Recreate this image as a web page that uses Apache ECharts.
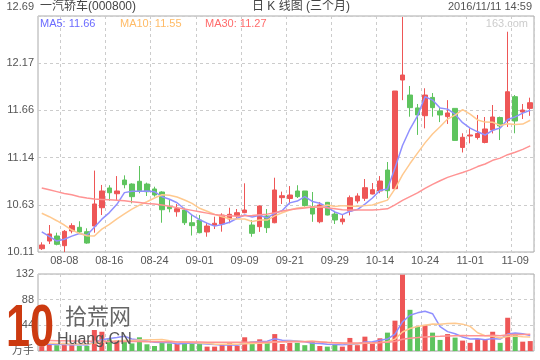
<!DOCTYPE html>
<html><head><meta charset="utf-8">
<script src="https://cdn.jsdelivr.net/npm/echarts@6/dist/echarts.min.js"></script>
<style>html,body{margin:0;padding:0;background:#fff}#c{width:540px;height:360px}</style>
</head><body><div id="c"></div>
<script>
const stockName = '一汽轿车(000800)';
const chartTitle = '日 K 线图 (三个月)';
const stamp = '2016/11/11 14:59';
const dates = ['08-03','08-04','08-05','08-08','08-09','08-10','08-11','08-12','08-15','08-16','08-17','08-18','08-19','08-22','08-23','08-24','08-25','08-26','08-29','08-30','08-31','09-01','09-02','09-05','09-06','09-07','09-08','09-09','09-12','09-13','09-14','09-19','09-20','09-21','09-22','09-23','09-26','09-27','09-28','09-29','09-30','10-10','10-11','10-12','10-13','10-14','10-17','10-18','10-19','10-20','10-21','10-24','10-25','10-26','10-27','10-28','10-31','11-01','11-02','11-03','11-04','11-07','11-08','11-09','11-10','11-11'];
const labelDates = ['08-08','08-16','08-24','09-01','09-09','09-21','09-29','10-14','10-24','11-01','11-09'];
const open = [10.146,10.23,10.285,10.179,10.34,10.38,10.332,10.394,10.594,10.81,10.747,10.897,10.853,10.883,10.853,10.799,10.766,10.605,10.55,10.569,10.43,10.46,10.329,10.402,10.416,10.471,10.507,10.54,10.405,10.387,10.504,10.43,10.704,10.695,10.777,10.777,10.605,10.441,10.653,10.525,10.441,10.558,10.668,10.697,10.744,10.777,11.006,10.802,11.99,11.826,11.685,11.60,11.80,11.652,11.59,11.68,11.253,11.378,11.362,11.307,11.444,11.58,11.545,11.808,11.64,11.68];
const close = [10.187,10.307,10.194,10.336,10.398,10.329,10.208,10.635,10.777,10.758,10.777,10.846,10.715,10.78,10.769,10.733,10.572,10.583,10.583,10.43,10.398,10.321,10.394,10.424,10.514,10.522,10.54,10.569,10.314,10.613,10.376,10.788,10.725,10.733,10.715,10.618,10.525,10.624,10.514,10.46,10.471,10.704,10.722,10.813,10.791,10.886,10.78,11.87,12.045,11.688,11.608,11.826,11.688,11.608,11.63,11.33,11.364,11.389,11.405,11.455,11.586,11.488,11.862,11.542,11.662,11.742];
const high = [10.216,10.405,10.321,10.35,10.424,10.446,10.369,11.0,10.843,10.84,10.94,10.948,10.861,11.05,10.868,10.824,10.774,10.686,10.635,10.594,10.52,10.515,10.427,10.496,10.533,10.594,10.58,10.861,10.46,10.62,10.58,10.922,10.77,10.831,10.84,10.777,10.766,10.657,10.657,10.56,10.525,10.728,10.752,10.908,10.864,10.94,11.094,11.87,12.68,11.925,11.728,11.9,11.848,11.695,11.77,11.68,11.408,11.462,11.608,11.586,11.717,11.59,12.518,11.826,11.728,11.797];
const low = [10.132,10.197,10.183,10.11,10.314,10.314,10.2,10.321,10.514,10.67,10.678,10.806,10.642,10.752,10.722,10.715,10.43,10.544,10.496,10.405,10.29,10.314,10.277,10.361,10.332,10.424,10.47,10.533,10.277,10.33,10.318,10.424,10.635,10.63,10.7,10.605,10.44,10.424,10.51,10.416,10.41,10.51,10.642,10.668,10.74,10.752,10.7,10.802,11.77,11.589,11.39,11.462,11.589,11.53,11.51,11.327,11.198,11.298,11.34,11.298,11.406,11.334,11.477,11.408,11.564,11.599];
const ma5 = [10.33,10.28,10.23,10.25,10.284,10.313,10.293,10.381,10.469,10.541,10.631,10.759,10.775,10.775,10.777,10.769,10.714,10.687,10.648,10.580,10.513,10.463,10.425,10.393,10.410,10.435,10.479,10.514,10.492,10.512,10.482,10.532,10.563,10.647,10.667,10.716,10.663,10.643,10.599,10.548,10.519,10.555,10.574,10.634,10.700,10.783,10.798,11.028,11.274,11.454,11.598,11.807,11.771,11.684,11.672,11.616,11.524,11.464,11.424,11.389,11.440,11.465,11.559,11.587,11.628,11.659];
const ma10 = [10.533,10.496,10.452,10.405,10.35,10.314,10.288,10.285,10.36,10.413,10.472,10.526,10.578,10.622,10.659,10.700,10.736,10.731,10.712,10.679,10.641,10.588,10.556,10.521,10.495,10.474,10.471,10.470,10.443,10.461,10.459,10.505,10.539,10.569,10.590,10.599,10.598,10.603,10.623,10.608,10.617,10.609,10.609,10.617,10.624,10.651,10.677,10.801,10.954,11.077,11.191,11.303,11.400,11.479,11.563,11.607,11.666,11.618,11.554,11.530,11.528,11.494,11.512,11.505,11.508,11.550];
const ma30 = [10.81,10.79,10.77,10.75,10.735,10.715,10.70,10.69,10.685,10.68,10.675,10.67,10.66,10.65,10.64,10.635,10.625,10.61,10.595,10.58,10.565,10.55,10.535,10.52,10.51,10.505,10.50,10.505,10.51,10.518,10.524,10.540,10.558,10.571,10.582,10.591,10.602,10.601,10.593,10.583,10.573,10.568,10.568,10.569,10.570,10.575,10.582,10.625,10.674,10.716,10.756,10.806,10.849,10.889,10.926,10.953,10.980,11.008,11.044,11.072,11.112,11.136,11.174,11.201,11.232,11.270];
const volume = [8,12,10,14,10,9,9,36,33,20,18,19,13,23.5,11.5,8.6,16,13,12,15,13,12,7.5,7.5,12,14,9,23.5,16,20,16,29,12,14,14,10,17,8.6,7.5,12,7.5,22.4,10,24.6,14,21.8,31.5,52,130.8,70.6,41.9,44.8,31.5,19,29,23,17.8,14,20.6,20.6,33,14,57,28.7,16,17];
const volMa5 = [12,11.5,11,11,10.8,11,10.4,15.6,19.4,21.4,23.2,25.2,20.6,18.7,17,15.1,14.5,14.5,12.2,12.9,13.8,13,11.9,11,10.4,10.6,10,13.2,14.9,16.5,16.9,20.9,18.6,18.2,17,15.8,13.4,12.7,11.4,11,10.5,11.6,11.9,15.3,15.7,18.6,20.4,28.8,50,61.3,65.4,68,63.9,41.6,33.2,29.5,24.1,20.6,20.9,19.2,21.2,20.4,29,30.7,29.7,26.5];
const volMa10 = [14,13.5,13,12.5,12,12,12,13.5,15,16.1,17.1,17.8,18.1,19.05,19.2,19.16,19.86,17.56,15.46,14.96,14.46,13.76,13.21,11.61,11.66,12.2,11.5,12.55,12.95,13.45,13.75,15.45,15.9,16.55,16.75,16.35,17.15,15.66,14.81,14.01,13.16,12.5,12.3,13.36,13.36,14.54,15.99,20.33,32.66,38.52,41.96,44.2,46.35,45.79,47.29,47.41,46.04,42.24,31.22,26.22,25.33,22.25,24.8,25.77,24.47,23.87];
const volMa30 = [18,17.8,17.6,17.4,17.2,17,16.8,16.7,16.6,16.5,16.4,16.3,16.2,16.1,16,15.9,15.8,15.7,15.6,15.5,15.4,15.3,15.2,15.1,15,14.95,14.9,14.85,14.85,14.84,15.11,15.68,15.75,15.75,15.88,15.91,16.18,15.27,14.42,14.15,13.8,13.91,13.81,13.85,13.93,14.37,14.89,16.19,20.15,22.0,22.96,24.05,24.85,25.23,25.8,26.1,26.39,26.07,26.22,26.24,26.81,26.31,27.81,28.3,28.37,28.6];
const priceTicks = ['10.11','10.63','11.14','11.66','12.17','12.69'];
const volTicks = ['万手','44','88','132'];

const UP = '#ee5656', DOWN = '#5ec45e';
const C5 = '#9090ff', C10 = '#ffc98f', C30 = '#ff9393';
const FONT = 'Liberation Sans, Noto Sans CJK SC, sans-serif';
const kData = dates.map((d, i) => [open[i], close[i], low[i], high[i]]);
const volData = volume.map((v, i) => ({ value: v, itemStyle: { color: close[i] >= open[i] ? UP : DOWN } }));
const pMin = +priceTicks[0], pMax = +priceTicks[priceTicks.length - 1];
const vMax = +volTicks[volTicks.length - 1];
const isLabel = (i) => labelDates.indexOf(dates[i]) >= 0;
const nearest = (arr, v) => { let best = arr[0], bd = 1e9; arr.forEach(s => { const n = s === '万手' ? 0 : +s; const d = Math.abs(n - v); if (d < bd) { bd = d; best = s; } }); return best; };
const dash = { color: '#cccccc', type: [3, 3], width: 1 };
const last = a => a[a.length - 1].toFixed(2);

const chart = echarts.init(document.getElementById('c'), null, { renderer: 'canvas' });
chart.setOption({
  animation: false,
  backgroundColor: '#fff',
  textStyle: { fontFamily: FONT },
  grid: [
    { left: 38, top: 16, width: 496, height: 236, show: true, borderColor: '#aaaaaa', borderWidth: 1 },
    { left: 38, top: 274, width: 496, height: 77, show: true, borderColor: '#aaaaaa', borderWidth: 1 }
  ],
  xAxis: [
    { type: 'category', gridIndex: 0, data: dates, boundaryGap: true,
      axisLine: { show: false }, axisTick: { show: false },
      axisLabel: { interval: (i) => isLabel(i), color: '#555', fontSize: 11, fontFamily: FONT, margin: 3 },
      splitLine: { show: true, interval: (i) => isLabel(i), lineStyle: dash } },
    { type: 'category', gridIndex: 1, data: dates, boundaryGap: true,
      axisLine: { show: false }, axisTick: { show: false }, axisLabel: { show: false },
      splitLine: { show: true, interval: (i) => isLabel(i), lineStyle: dash } }
  ],
  yAxis: [
    { type: 'value', gridIndex: 0, min: pMin, max: pMax, interval: (pMax - pMin) / (priceTicks.length - 1),
      axisLine: { show: false }, axisTick: { show: false },
      axisLabel: { color: '#555', fontSize: 11, fontFamily: FONT, margin: 4,
        formatter: (v) => { const s = nearest(priceTicks, v); return s === priceTicks[priceTicks.length - 1] ? '{t|' + s + '}' : s; },
        rich: { t: { padding: [0, 0, 18, 0], fontSize: 11, color: '#555', fontFamily: FONT } } },
      splitLine: { show: true, lineStyle: dash } },
    { type: 'value', gridIndex: 1, min: 0, max: vMax, interval: vMax / (volTicks.length - 1),
      axisLine: { show: false }, axisTick: { show: false },
      axisLabel: { color: '#555', fontSize: 11, fontFamily: FONT, margin: 4, formatter: (v) => nearest(volTicks, v) },
      splitLine: { show: true, lineStyle: dash } }
  ],
  series: [
    { type: 'candlestick', xAxisIndex: 0, yAxisIndex: 0, data: kData, barWidth: 5,
      itemStyle: { color: UP, color0: DOWN, borderColor: UP, borderColor0: DOWN, borderWidth: 1 } },
    { type: 'line', xAxisIndex: 0, yAxisIndex: 0, data: ma5, showSymbol: false, lineStyle: { color: C5, width: 1.5 } },
    { type: 'line', xAxisIndex: 0, yAxisIndex: 0, data: ma10, showSymbol: false, lineStyle: { color: C10, width: 1.5 } },
    { type: 'line', xAxisIndex: 0, yAxisIndex: 0, data: ma30, showSymbol: false, lineStyle: { color: C30, width: 1.5 } },
    { type: 'bar', xAxisIndex: 1, yAxisIndex: 1, data: volData, barWidth: 5 },
    { type: 'line', xAxisIndex: 1, yAxisIndex: 1, data: volMa5, showSymbol: false, lineStyle: { color: C5, width: 1.5 } },
    { type: 'line', xAxisIndex: 1, yAxisIndex: 1, data: volMa10, showSymbol: false, lineStyle: { color: C10, width: 1.5 } },
    { type: 'line', xAxisIndex: 1, yAxisIndex: 1, data: volMa30, showSymbol: false, lineStyle: { color: C30, width: 1.5 } }
  ],
  graphic: [
    { type: 'text', left: 40, top: 1, style: { text: stockName, fill: '#444', font: '12px ' + FONT } },
    { type: 'text', left: 252, top: 1, style: { text: chartTitle, fill: '#444', font: '12px ' + FONT } },
    { type: 'text', right: 8, top: 1, style: { text: stamp, fill: '#555', font: '11px ' + FONT } },
    { type: 'text', left: 40, top: 18, z: 10, style: { text: 'MA5: ' + last(ma5), fill: '#6b6bff', font: '11px ' + FONT } },
    { type: 'text', left: 120, top: 18, z: 10, style: { text: 'MA10: ' + last(ma10), fill: '#ffbb66', font: '11px ' + FONT } },
    { type: 'text', left: 205, top: 18, z: 10, style: { text: 'MA30: ' + last(ma30), fill: '#ff6b6b', font: '11px ' + FONT } },
    { type: 'text', right: 12, top: 18, z: 10, style: { text: '163.com', fill: '#cccccc', font: '11px ' + FONT } },
    { type: 'text', x: 6, y: 299, scaleX: 0.72, z: 20, style: { text: '10', fill: '#cc3a10', font: 'bold 60px ' + FONT } },
    { type: 'text', left: 65, top: 305, z: 20, style: { text: '拾荒网', fill: '#666', font: '22px Noto Sans CJK SC' } },
    { type: 'text', left: 57, top: 332, z: 20, style: { text: 'Huang.CN', fill: '#555', font: '16px ' + FONT } }
  ]
});
</script></body></html>
